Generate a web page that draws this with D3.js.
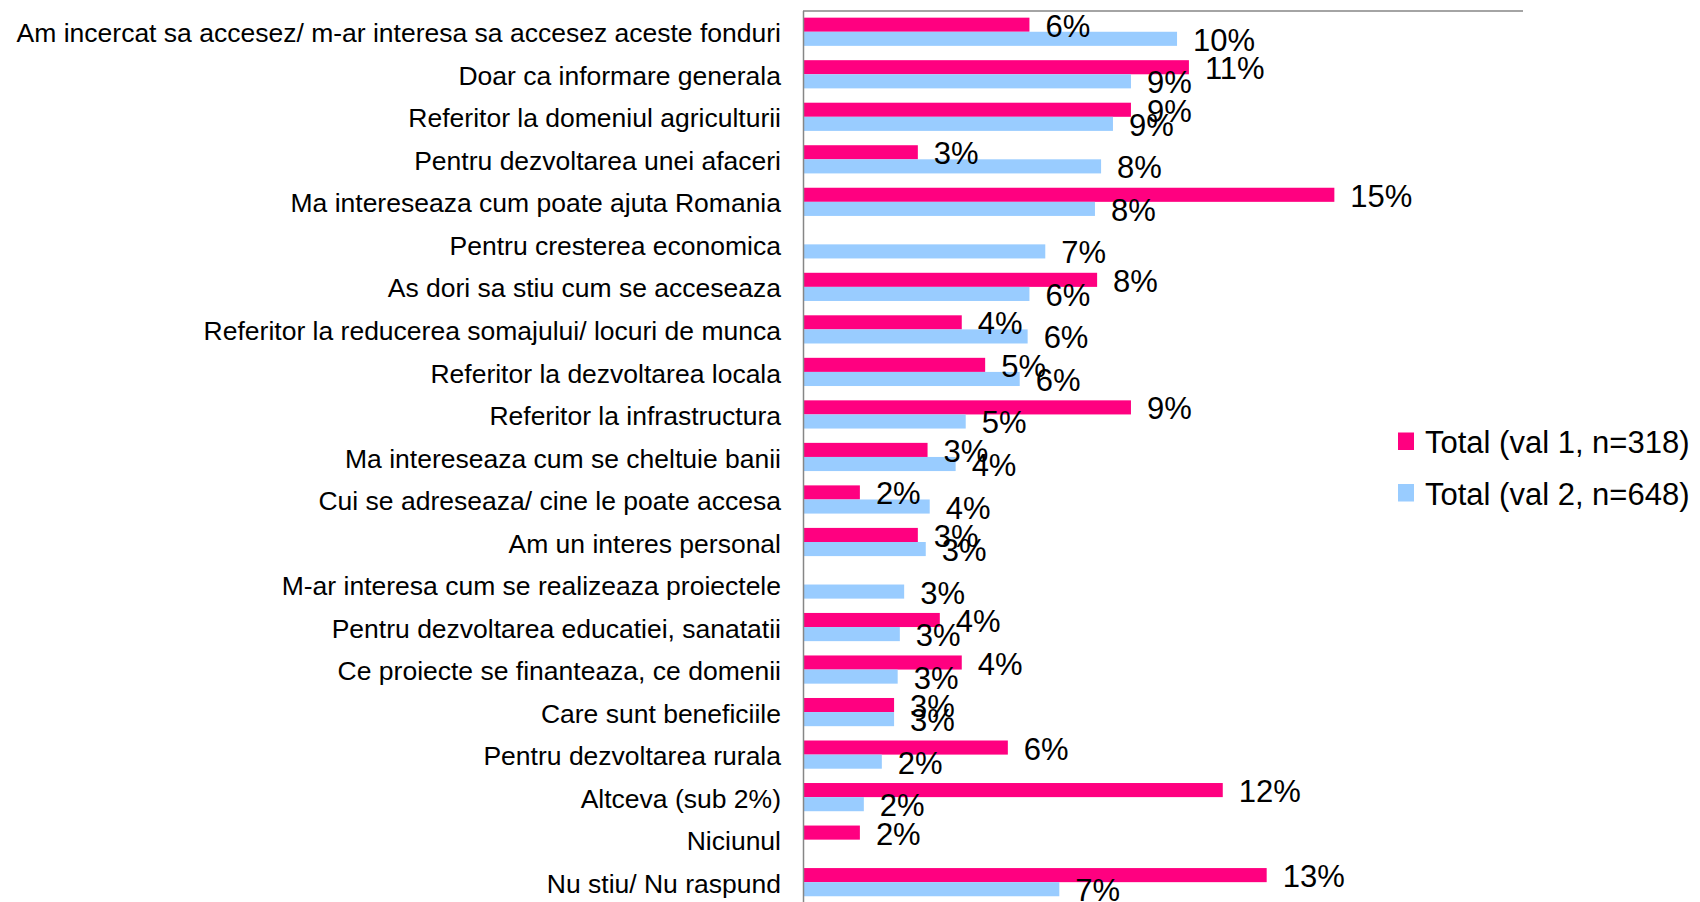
<!DOCTYPE html>
<html>
<head>
<meta charset="utf-8">
<script src="https://cdn.jsdelivr.net/npm/d3@7"></script>
<style>
  body { margin: 0; background: #fff; }
  svg { display: block; font-family: "Liberation Sans", Arial, sans-serif; }
</style>
</head>
<body>
<svg id="chart" width="1700" height="902"></svg>
<script>
const categories = [
  'Am incercat sa accesez/ m-ar interesa sa accesez aceste fonduri',
  'Doar ca informare generala',
  'Referitor la domeniul agriculturii',
  'Pentru dezvoltarea unei afaceri',
  'Ma intereseaza  cum poate ajuta Romania',
  'Pentru cresterea economica',
  'As dori sa stiu cum se acceseaza',
  'Referitor la reducerea somajului/ locuri de munca',
  'Referitor la dezvoltarea locala',
  'Referitor la infrastructura',
  'Ma intereseaza  cum se cheltuie banii',
  'Cui se adreseaza/  cine le poate accesa',
  'Am un interes personal',
  'M-ar interesa cum se realizeaza  proiectele',
  'Pentru dezvoltarea educatiei, sanatatii',
  'Ce proiecte se finanteaza,  ce domenii',
  'Care sunt beneficiile',
  'Pentru dezvoltarea rurala',
  'Altceva (sub 2%)',
  'Niciunul',
  'Nu stiu/ Nu raspund'
];

const val1 = [0.0629, 0.1072, 0.0911, 0.0319, 0.1476, null, 0.0817, 0.0441, 0.0506, 0.0911, 0.0346,
  0.0158, 0.0319, null, 0.0380, 0.0441, 0.0253, 0.0569, 0.1166, 0.0158, 0.1288];
const val2 = [0.1039, 0.0911, 0.0861, 0.0828, 0.0811, 0.0673, 0.0629, 0.0624, 0.0602, 0.0452, 0.0424,
  0.0352, 0.0341, 0.0281, 0.0269, 0.0263, 0.0253, 0.0219, 0.0169, null, 0.0712];

const seriesNames = ['Total (val 1, n=318)', 'Total (val 2, n=648)'];
const seriesKeys = ['v1', 'v2'];
const colors = ['#ff0080', '#99ccff'];

const svg = d3.select('#chart');
const fmt = d3.format('.0%');

const x = d3.scaleLinear().domain([0, 0.20]).range([803, 1523]);
const y = d3.scaleBand()
  .domain(categories)
  .range([10.5, 10.5 + 21 * 42.52])
  .paddingInner(0.337)
  .paddingOuter(0.1685);
const ySub = d3.scaleBand().domain(seriesKeys).range([0, y.bandwidth()]);
const color = d3.scaleOrdinal().domain(seriesKeys).range(colors);

// flat list of bars, skipping empty cells
const bars = [];
categories.forEach((c, i) => {
  if (val1[i] != null) bars.push({ cat: c, key: 'v1', value: val1[i] });
  if (val2[i] != null) bars.push({ cat: c, key: 'v2', value: val2[i] });
});
const barY = d => y(d.cat) + ySub(d.key);

// plot area top border
svg.append('line')
  .attr('x1', x(0)).attr('x2', x(0.20))
  .attr('y1', 11).attr('y2', 11)
  .attr('stroke', '#868686').attr('stroke-width', 1.5);

svg.append('g').selectAll('rect')
  .data(bars)
  .enter()
  .append('rect')
  .attr('x', x(0))
  .attr('y', barY)
  .attr('width', d => x(d.value) - x(0))
  .attr('height', ySub.bandwidth())
  .attr('fill', d => color(d.key));

// value labels go on top of every bar
svg.append('g').selectAll('text')
  .data(bars)
  .enter()
  .append('text')
  .attr('x', d => x(d.value) + 16)
  .attr('y', d => barY(d) + ySub.bandwidth() / 2 + 12)
  .attr('font-size', 31)
  .attr('fill', '#000')
  .text(d => fmt(d.value));

// category axis
const axis = svg.append('g')
  .attr('transform', `translate(${x(0)}, 0)`)
  .call(d3.axisLeft(y).tickSize(0).tickPadding(22));
axis.select('.domain').attr('stroke', '#868686').attr('stroke-width', 1.5);
axis.selectAll('text')
  .attr('font-size', 26.5)
  .attr('font-family', '"Liberation Sans", Arial, sans-serif')
  .attr('fill', '#000')
  .attr('dy', '0.4em');

// legend
const legend = svg.append('g').attr('transform', 'translate(1398, 441)');
const items = legend.selectAll('g')
  .data(seriesKeys)
  .enter()
  .append('g')
  .attr('transform', (d, i) => `translate(0, ${i * 51.5})`);
items.append('rect')
  .attr('x', 0).attr('y', -8.5)
  .attr('width', 16).attr('height', 17.5)
  .attr('fill', d => color(d));
items.append('text')
  .attr('x', 27).attr('y', 12)
  .attr('font-size', 31)
  .attr('fill', '#000')
  .text((d, i) => seriesNames[i]);
</script>
</body>
</html>
